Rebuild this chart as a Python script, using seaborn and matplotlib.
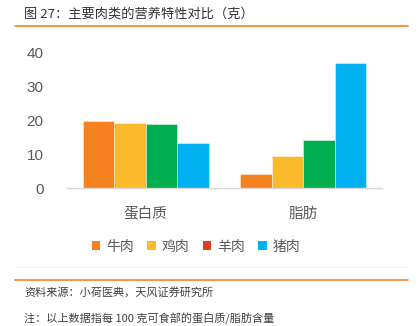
import matplotlib
matplotlib.use("Agg")
import matplotlib.pyplot as plt
from matplotlib.patches import Patch
from matplotlib.lines import Line2D
import seaborn as sns
import pandas as pd

sns.set_theme(style="white")
plt.rcParams["font.family"] = ["Noto Sans CJK SC", "DejaVu Sans"]

# Nutrient content per 100 g edible portion
nutrients = ["蛋白质", "脂肪"]
meats = ["牛肉", "鸡肉", "羊肉", "猪肉"]
beef = [19.9, 4.2]
chicken = [19.3, 9.4]
lamb = [19.0, 14.1]
pork = [13.2, 37.0]
y_ticks = [0, 10, 20, 30, 40]

bar_colors = ["#F5821F", "#FBBA2C", "#00AE4F", "#00B0F0"]
legend_colors = ["#F5821F", "#FBBA2C", "#E23D1E", "#00B0F0"]

rows = []
for meat, vals in zip(meats, [beef, chicken, lamb, pork]):
    for nut, v in zip(nutrients, vals):
        rows.append({"营养": nut, "肉类": meat, "含量": v})
df = pd.DataFrame(rows)

W, H = 418, 326
fig = plt.figure(figsize=(W / 100, H / 100), dpi=100)
ax = fig.add_axes([67 / W, (H - 188) / H, (382 - 67) / W, (188 - 52.7) / H])

sns.barplot(data=df, x="营养", y="含量", hue="肉类", order=nutrients,
            hue_order=meats, palette=bar_colors, saturation=1, width=0.8, gap=0,
            edgecolor=(1, 1, 1, 0.5), linewidth=0.6, ax=ax, legend=False)

ax.set_xlim(-0.5, 1.5)
ax.set_ylim(0, 40)
ax.set_yticks(y_ticks)
ax.set_yticklabels([str(t) for t in y_ticks], family=["Liberation Sans", "DejaVu Sans"],
                   fontsize=11, color="#595959")
ax.tick_params(axis="y", length=0, pad=17)
ax.tick_params(axis="x", length=0, pad=14, labelsize=10.5, labelcolor="#595959")
ax.set_xlabel("")
ax.set_ylabel("")
for s in ["left", "right", "top"]:
    ax.spines[s].set_visible(False)
ax.spines["bottom"].set_color("#d9d9d9")
ax.spines["bottom"].set_linewidth(1.0)

handles = [Patch(facecolor=c, edgecolor="none") for c in legend_colors]
fig.legend(handles, meats, loc="center", bbox_to_anchor=(196 / W, 1 - 246.5 / H),
           ncol=4, frameon=False, fontsize=10, handlelength=0.6, handleheight=0.6,
           handletextpad=0.4, columnspacing=1.0, labelcolor="#595959")

# Header and footer
fig.text(24 / W, 1 - 14 / H, "图 27：主要肉类的营养特性对比（克）", fontsize=9.5,
         fontweight="medium", color="#333333", va="center", ha="left")
fig.add_artist(Line2D([15 / W, 408 / W], [1 - 26 / H] * 2, color="#F5821F", lw=1.2))
fig.add_artist(Line2D([15 / W, 408 / W], [1 - 267 / H] * 2, color="#f2f2f2", lw=0.6))
fig.add_artist(Line2D([15 / W, 408 / W], [1 - 279.5 / H] * 2, color="#F5821F", lw=1.2))
fig.text(24 / W, 1 - 292.5 / H, "资料来源：小荷医典，天风证券研究所", fontsize=8,
         color="#404040", va="center", ha="left")
fig.text(24 / W, 1 - 319 / H, "注：以上数据指每 100 克可食部的蛋白质/脂肪含量", fontsize=8,
         color="#404040", va="center", ha="left")

fig.savefig("out.png", dpi=100)
